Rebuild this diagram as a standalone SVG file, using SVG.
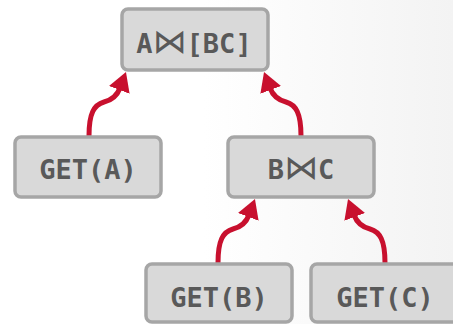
<svg xmlns="http://www.w3.org/2000/svg" width="453" height="324" viewBox="0 0 453 324">
  <defs>
    <linearGradient id="bg" gradientUnits="userSpaceOnUse" x1="0" y1="0" x2="453" y2="0">
      <stop offset="0.45" stop-color="#ffffff"/>
      <stop offset="1" stop-color="#f3f3f3"/>
    </linearGradient>
    <marker id="head" markerUnits="userSpaceOnUse" viewBox="0 0 20 22" markerWidth="20" markerHeight="22" refX="2" refY="11" orient="auto">
      <path d="M0,0 L19,11 L0,22 Z" fill="#c8102e"/>
    </marker>
    <style>
      .box { fill: #d9d9d9; stroke: #a6a6a6; stroke-width: 3.5; }
      .lbl { font-family: "DejaVu Sans Mono", "Liberation Mono", monospace; font-weight: bold; font-size: 27px; fill: #595959; text-anchor: middle; }
      .bow { font-family: "DejaVu Sans", sans-serif; font-weight: normal; font-size: 34px; }
      .edge { fill: none; stroke: #c8102e; stroke-width: 5; marker-end: url(#head); }
    </style>
  </defs>

  <rect x="0" y="0" width="453" height="324" fill="url(#bg)"/>

  <!-- connectors: child to parent -->
  <g id="edges">
    <path class="edge" d="M89,136 C89,113 94,105 104,102 C112,100 117,96 120,88"/>
    <path class="edge" d="M301,136 C301,113 296,105 286,102 C278,100 273,96 270,88"/>
    <path class="edge" d="M218,263 C218,240 223,232 233,229 C241,227 246,223 249,215"/>
    <path class="edge" d="M385,263 C385,240 380,232 370,229 C362,227 357,223 354,215"/>
  </g>

  <g id="join-root">
    <rect class="box" x="122" y="9" width="146" height="61" rx="6"/>
    <text class="lbl" x="194" y="53">A<tspan class="bow">⋈</tspan>[BC]</text>
  </g>
  <g id="get-a">
    <rect class="box" x="15" y="137" width="146" height="60" rx="6"/>
    <text class="lbl" x="88" y="179">GET(A)</text>
  </g>
  <g id="join-bc">
    <rect class="box" x="228" y="137" width="146" height="60" rx="6"/>
    <text class="lbl" x="301" y="179">B<tspan class="bow">⋈</tspan>C</text>
  </g>
  <g id="get-b">
    <rect class="box" x="146" y="264" width="146" height="58" rx="6"/>
    <text class="lbl" x="219" y="307">GET(B)</text>
  </g>
  <g id="get-c">
    <rect class="box" x="311" y="264" width="150" height="58" rx="6"/>
    <text class="lbl" x="385" y="307">GET(C)</text>
  </g>
</svg>
